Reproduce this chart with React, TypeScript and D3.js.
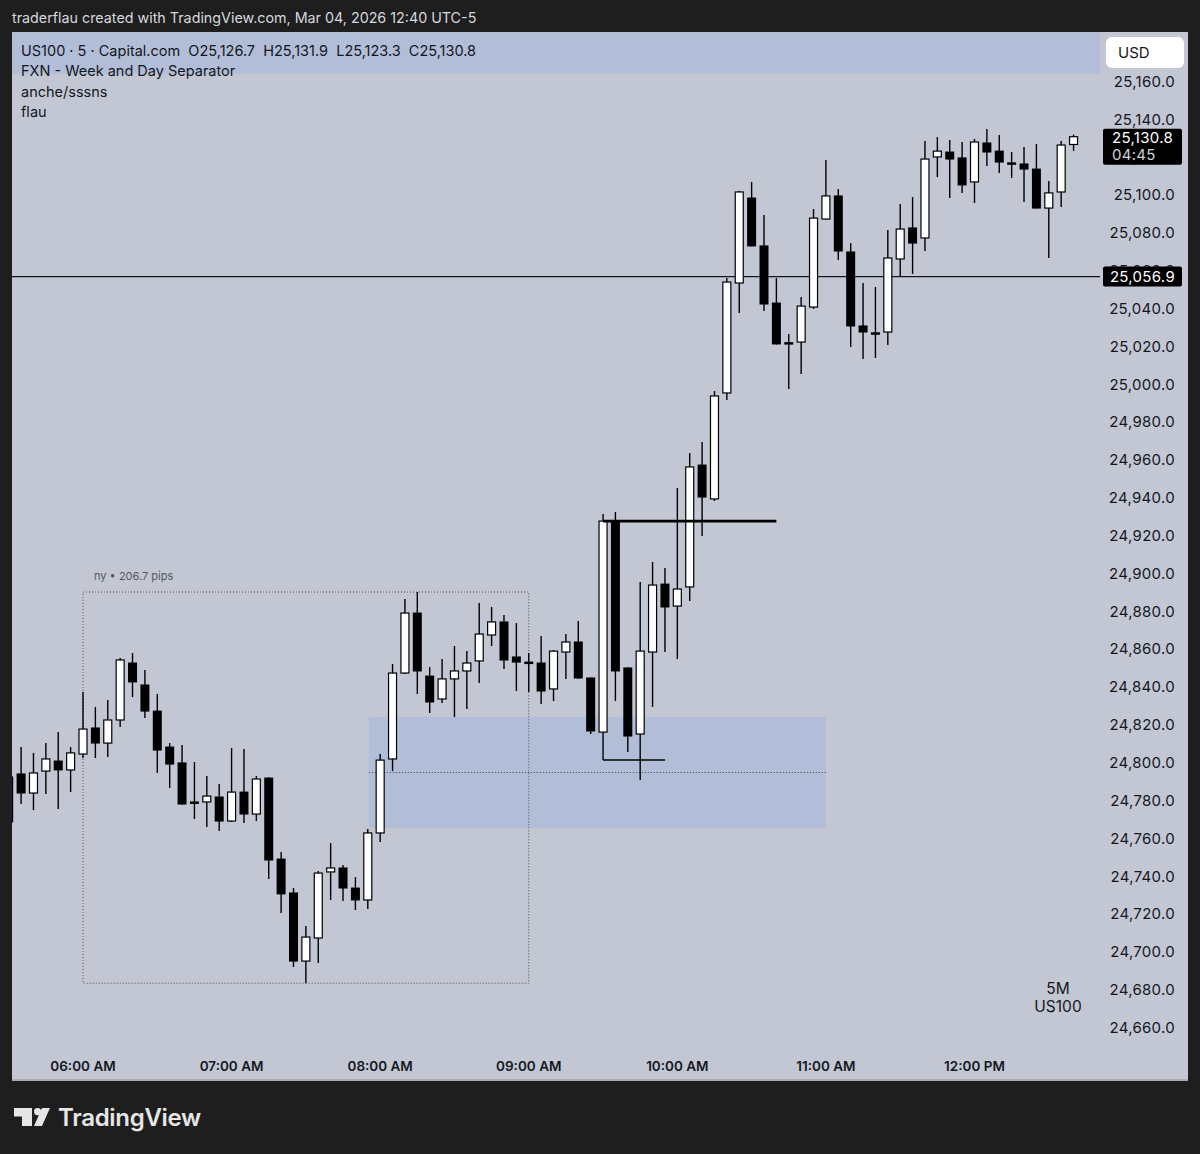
import * as d3 from "d3";

// 5-minute candles, US100, starting 05:30
const startTime = new Date(2026, 2, 4, 5, 30);
const opens = [
  24792.5, 24794.1, 24784.0, 24795.6, 24800.9, 24796.2, 24804.6, 24818.4, 24810.4, 24822.6,
  24852.7, 24841.1, 24827.3, 24808.3, 24799.9, 24779.3, 24779.3, 24781.9, 24769.2, 24784.5,
  24772.9, 24791.9, 24749.1, 24731.2, 24695.2, 24707.4, 24742.3, 24744.4, 24733.8, 24727.5,
  24762.9, 24802.0, 24847.4, 24879.1, 24845.8, 24833.7, 24844.3, 24848.5, 24853.8, 24867.5,
  24874.4, 24855.9, 24853.2, 24852.7, 24839.0, 24858.5, 24863.8, 24844.8, 24816.2, 24927.7,
  24850.1, 24815.2, 24858.5, 24894.4, 24882.8, 24892.9, 24957.3, 24939.4, 24995.4, 25053.5,
  25098.4, 25073.1, 25042.9, 25022.0, 25022.3, 25040.8, 25087.3, 25099.5, 25069.9, 25030.8,
  25027.2, 25027.6, 25066.2, 25082.6, 25077.3, 25120.1, 25122.7, 25119.6, 25106.9, 25127.5,
  25123.2, 25117.0, 25116.4, 25113.7, 25093.1, 25101.6, 25126.7,
];
const highs = [
  24795.1, 24808.3, 24805.2, 24810.4, 24816.2, 24808.3, 24837.4, 24829.5, 24833.2, 24855.4,
  24858.0, 24849.0, 24836.3, 24810.4, 24809.4, 24800.4, 24793.0, 24788.8, 24807.8, 24807.3,
  24793.0, 24792.4, 24752.8, 24733.8, 24713.7, 24742.8, 24757.6, 24746.0, 24739.6, 24765.0,
  24804.6, 24852.2, 24886.5, 24890.2, 24850.6, 24854.8, 24861.7, 24859.0, 24884.4, 24882.3,
  24878.1, 24873.8, 24858.0, 24867.0, 24859.6, 24868.0, 24874.9, 24845.0, 24931.4, 24932.5,
  24850.5, 24895.5, 24906.1, 24902.9, 24945.2, 24963.7, 24969.5, 24996.4, 25056.1, 25102.1,
  25106.9, 25089.4, 25056.1, 25026.6, 25046.1, 25092.6, 25118.5, 25103.2, 25074.6, 25053.5,
  25051.4, 25081.5, 25095.2, 25098.9, 25128.5, 25130.6, 25129.1, 25128.0, 25129.6, 25134.9,
  25131.7, 25122.7, 25125.4, 25126.9, 25107.4, 25128.5, 25131.9,
];
const lows = [
  24766.6, 24778.2, 24775.0, 24783.5, 24775.6, 24784.5, 24802.5, 24802.5, 24803.0, 24818.9,
  24834.7, 24823.6, 24794.6, 24786.7, 24777.8, 24770.3, 24766.1, 24764.0, 24768.7, 24768.2,
  24769.2, 24738.6, 24720.6, 24692.1, 24683.5, 24694.2, 24727.5, 24727.0, 24722.2, 24722.7,
  24758.1, 24795.6, 24846.9, 24836.3, 24826.3, 24831.6, 24824.2, 24828.4, 24842.1, 24861.7,
  24849.5, 24837.9, 24837.4, 24831.0, 24832.6, 24844.3, 24844.3, 24815.2, 24801.4, 24832.6,
  24805.7, 24790.9, 24829.5, 24858.5, 24854.8, 24885.5, 24919.8, 24938.3, 24991.7, 25037.6,
  25072.8, 25038.7, 25021.0, 24997.5, 25005.4, 25039.8, 25087.0, 25065.7, 25019.7, 25013.3,
  25013.9, 25020.7, 25057.2, 25058.3, 25070.4, 25109.5, 25098.4, 25101.1, 25095.8, 25115.3,
  25111.6, 25109.0, 25096.3, 25092.9, 25066.7, 25093.7, 25123.3,
];
const closes = [
  24768.7, 24784.0, 24794.6, 24802.0, 24796.2, 24805.2, 24817.8, 24810.4, 24822.6, 24854.3,
  24842.7, 24827.3, 24806.7, 24799.3, 24778.2, 24778.7, 24782.4, 24769.2, 24784.5, 24772.9,
  24791.4, 24748.6, 24730.7, 24695.2, 24707.9, 24741.7, 24744.4, 24733.8, 24727.5, 24762.9,
  24801.4, 24847.4, 24879.1, 24848.5, 24832.1, 24844.3, 24848.5, 24852.7, 24868.0, 24874.4,
  24854.3, 24853.2, 24852.9, 24837.9, 24859.0, 24863.8, 24844.8, 24816.8, 24927.7, 24848.5,
  24814.1, 24859.0, 24893.9, 24882.3, 24891.8, 24956.3, 24940.4, 24993.8, 25054.0, 25101.6,
  25073.1, 25042.4, 25021.3, 25021.8, 25041.3, 25087.8, 25099.5, 25070.4, 25030.8, 25027.6,
  25027.0, 25066.7, 25082.0, 25074.6, 25119.0, 25123.2, 25119.0, 25105.3, 25128.0, 25122.7,
  25117.4, 25116.9, 25113.7, 25093.1, 25101.1, 25126.4, 25130.8,
];

const priceTicks = d3.range(24660, 25161, 20);
const timeTickLabels = ["06:00 AM", "07:00 AM", "08:00 AM", "09:00 AM", "10:00 AM", "11:00 AM", "12:00 PM"];
const timeTickHours = [6, 7, 8, 9, 10, 11, 12];

const legendLines = [
  "US100 · 5 · Capital.com  O25,126.7  H25,131.9  L25,123.3  C25,130.8",
  "FXN - Week and Day Separator",
  "anche/sssns",
  "flau",
];

// drawings
const hLinePrice = 25056.9;
const lastPrice = 25130.8;
const countdown = "04:45";
const fvgTop = 24824.2;
const fvgBottom = 24765.5;
const bandTop = 25186;
const bandBottom = 25164;
const nyStart = new Date(2026, 2, 4, 6, 0);
const nyEnd = new Date(2026, 2, 4, 9, 0);
const fvgStart = new Date(2026, 2, 4, 7, 55);
const fvgEnd = new Date(2026, 2, 4, 11, 0);
const sweepLinePrice = 24927.7;
const sweepStart = new Date(2026, 2, 4, 9, 30);
const sweepEnd = new Date(2026, 2, 4, 10, 40);
const lowLinePrice = 24801.4;
const lowLineEnd = new Date(2026, 2, 4, 9, 55);

const BG = "#1e1e1e";
const PANEL = "#c3c7d3";
const ZONE = "#b2bed8";
const INK = "#131722";
const FONT = "Inter, 'Noto Sans', sans-serif";

export default function App() {
  const width = 1200;
  const height = 1154;
  const plotLeft = 12;
  const plotRight = 1100;

  const x = d3.scaleTime()
    .domain([new Date(2026, 2, 4, 6, 0), new Date(2026, 2, 4, 12, 0)])
    .range([83, 974.5]);
  const y = d3.scaleLinear().domain([24700, 25100]).range([952, 195]);

  const times = opens.map((_, i) => d3.timeMinute.offset(startTime, i * 5));
  const fmt = d3.format(",.1f");
  const bodyW = 9;

  // ny session range
  const nyIdx = times.map((t, i) => (t >= nyStart && t <= nyEnd ? i : -1)).filter((i) => i >= 0);
  const nyHigh = d3.max(nyIdx, (i) => highs[i]) as number;
  const nyLow = d3.min(nyIdx, (i) => lows[i]) as number;
  const nyPips = d3.format(".1f")(nyHigh - nyLow);

  return (
    <div style={{ position: "absolute", left: 0, top: 0, width, height, background: BG }}>
      <svg width={width} height={height} style={{ display: "block" }} fontFamily={FONT}>
        <rect x={0} y={0} width={width} height={height} fill={BG} />
        <text x={12} y={23} fill="#d6d8de" fontSize={14.3}>
          traderflau created with TradingView.com, Mar 04, 2026 12:40 UTC-5
        </text>

        {/* panel */}
        <rect x={12} y={32} width={1176} height={1049} fill={PANEL} />
        <line x1={12} x2={1188} y1={1080} y2={1080} stroke="#a9acb6" strokeWidth={2} />

        <defs>
          <clipPath id="plot">
            <rect x={plotLeft} y={32} width={plotRight - plotLeft} height={1011} />
          </clipPath>
        </defs>

        <g clipPath="url(#plot)">
          {/* top band zone */}
          <rect x={plotLeft} y={y(bandTop)} width={plotRight - plotLeft} height={y(bandBottom) - y(bandTop)} fill={ZONE} />

          {/* FVG zone */}
          <rect x={x(fvgStart) + 1} y={y(fvgTop)} width={x(fvgEnd) - x(fvgStart) - 1} height={y(fvgBottom) - y(fvgTop)} fill={ZONE} />
          <line
            x1={x(fvgStart) + 1} x2={x(fvgEnd)}
            y1={y((fvgTop + fvgBottom) / 2)} y2={y((fvgTop + fvgBottom) / 2)}
            stroke="#3d3f46" strokeWidth={1} strokeDasharray="1 2"
          />

          {/* ny box */}
          <rect
            x={x(nyStart)} y={y(nyHigh)} width={x(nyEnd) - x(nyStart)} height={y(nyLow) - y(nyHigh)}
            fill="none" stroke="#4a4c54" strokeWidth={1} strokeDasharray="1 2"
          />
          <text x={x(nyStart) + 11} y={y(nyHigh) - 12} fontSize={11} fill="#555862">
            ny • {nyPips} pips
          </text>

          {/* horizontal level */}
          <line x1={plotLeft} x2={plotRight} y1={y(hLinePrice)} y2={y(hLinePrice)} stroke={INK} strokeWidth={1.3} />

          {/* candles */}
          {opens.map((o, i) => {
            const c = closes[i];
            const cx = x(times[i]);
            const up = c >= o;
            const top = y(Math.max(o, c));
            const bot = y(Math.min(o, c));
            const h = Math.max(bot - top, 1.5);
            return (
              <g key={i}>
                <line x1={cx} x2={cx} y1={y(highs[i])} y2={y(lows[i])} stroke="#000" strokeWidth={1.4} />
                {up ? (
                  <rect x={cx - bodyW / 2 + 0.5} y={top} width={bodyW - 1} height={h} fill="#fff" stroke="#000" strokeWidth={1.2} />
                ) : (
                  <rect x={cx - bodyW / 2} y={top - 0.5} width={bodyW} height={h + 1} fill="#000" />
                )}
              </g>
            );
          })}

          {/* sweep lines */}
          <line x1={x(sweepStart)} x2={x(sweepEnd)} y1={y(sweepLinePrice)} y2={y(sweepLinePrice)} stroke="#000" strokeWidth={2.6} />
          <line x1={x(sweepStart)} x2={x(lowLineEnd)} y1={y(lowLinePrice)} y2={y(lowLinePrice)} stroke="#000" strokeWidth={1.5} />
        </g>

        {/* legend */}
        {legendLines.map((t, i) => (
          <text key={i} x={21} y={56 + i * 20.3} fontSize={14.5} fill={INK} style={{ whiteSpace: "pre" }}>
            {t}
          </text>
        ))}

        {/* price axis */}
        {priceTicks.map((p) => (
          <text key={p} x={1175} y={y(p)} dy="0.35em" textAnchor="end" fontSize={15} letterSpacing={0.3} fill={INK}>
            {fmt(p)}
          </text>
        ))}

        {/* USD box */}
        <rect x={1106} y={37} width={78} height={31} rx={6} fill="#fff" />
        <text x={1118} y={52.5} dy="0.35em" fontSize={15} fill={INK}>USD</text>

        {/* last price label */}
        <rect x={1103} y={y(lastPrice) - 8} width={79} height={36} rx={2} fill="#000" />
        <text x={1112} y={y(lastPrice) + 1.5} dy="0.35em" fontSize={15} letterSpacing={0.3} fill="#fff">{fmt(lastPrice)}</text>
        <text x={1112} y={y(lastPrice) + 18} dy="0.35em" fontSize={15} letterSpacing={0.3} fill="#d0d2d8">{countdown}</text>

        {/* level label */}
        <rect x={1103} y={y(hLinePrice) - 10} width={79} height={20} rx={2} fill="#000" />
        <text x={1175} y={y(hLinePrice)} dy="0.35em" textAnchor="end" fontSize={15} letterSpacing={0.3} fill="#fff">{fmt(hLinePrice)}</text>

        {/* time axis */}
        {timeTickHours.map((h, i) => (
          <text
            key={h}
            x={x(new Date(2026, 2, 4, h, 0))}
            y={1066}
            dy="0.35em"
            textAnchor="middle"
            fontSize={13.5}
            fontWeight={600}
            fill={INK}
          >
            {timeTickLabels[i]}
          </text>
        ))}

        {/* watermark */}
        <text x={1058} y={989} dy="0.35em" textAnchor="middle" fontSize={15.5} fill={INK}>5M</text>
        <text x={1058} y={1007} dy="0.35em" textAnchor="middle" fontSize={15.5} fill={INK}>US100</text>

        {/* TradingView logo */}
        <g fill="#e6e6e6">
          <path d="M14,1108 H32 V1126 H22 V1116.5 H14 Z" />
          <circle cx={37.6} cy={1111.6} r={3.6} />
          <path d="M42,1108 H50 L42,1126 H34 Z" />
        </g>
        <text x={58} y={1126} fontSize={24} fontWeight={600} fill="#e6e6e6" letterSpacing={-0.3}>
          TradingView
        </text>
      </svg>
    </div>
  );
}
